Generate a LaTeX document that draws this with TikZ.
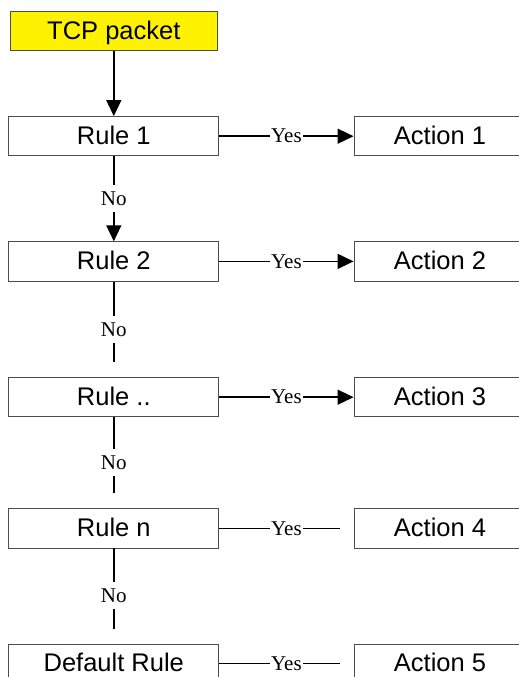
\documentclass[tikz,border=0pt]{standalone}
\usepackage{fontspec}
\setmainfont{Liberation Serif}
\newfontfamily\arialfont{Liberation Sans}
\usetikzlibrary{arrows.meta}
\begin{document}
\begin{tikzpicture}[x=1pt,y=-1pt,
 box/.style={draw=black!70, line width=0.9pt, rectangle, minimum width=210pt, minimum height=39.3pt, inner sep=0pt, font=\arialfont\fontsize{25.5}{30}\selectfont, text height=18.3pt, text depth=2.5pt},
 actbox/.style={box, minimum width=172pt},
 conn/.style={draw=black, line width=1.5pt},
 arr/.style={-{Triangle[length=16pt,width=15pt]}},
 lbl/.style={fill=white, inner xsep=1pt, inner ysep=6.5pt, font=\fontsize{21}{24}\selectfont}
]
\useasboundingbox (0,0) rectangle (519,677);

\node[box, fill=yellow, minimum width=207pt] (tcp) at (113.8,31.3) {TCP packet};
\node[box] (r1) at (113.8,136.2) {Rule 1};
\node[box] (r2) at (113.8,261.4) {Rule 2};
\node[box] (r3) at (113.8,397.2) {Rule ..};
\node[box] (r4) at (113.8,528.3) {Rule n};
\node[box] (r5) at (113.8,663.6) {Default Rule};

\node[actbox] (a1) at (440,136.2) {Action 1};
\node[actbox] (a2) at (440,261.4) {Action 2};
\node[actbox] (a3) at (440,397.2) {Action 3};
\node[actbox] (a4) at (440,528.3) {Action 4};
\node[actbox] (a5) at (440,663.6) {Action 5};

\draw[conn,arr] (tcp) -- (r1);
\draw[conn,arr] (r1) -- node[lbl]{No} (r2);
\draw[conn,shorten >=15pt] (r2) -- node[lbl]{No} (r3);
\draw[conn,shorten >=15pt] (r3) -- node[lbl]{No} (r4);
\draw[conn,shorten >=15pt] (r4) -- node[lbl]{No} (r5);

\draw[conn,arr] (r1) -- node[lbl]{Yes} (a1);
\draw[conn,arr] (r2) -- node[lbl]{Yes} (a2);
\draw[conn,arr] (r3) -- node[lbl]{Yes} (a3);
\draw[conn,shorten >=14pt] (r4) -- node[lbl]{Yes} (a4);
\draw[conn,shorten >=14pt] (r5) -- node[lbl]{Yes} (a5);
\end{tikzpicture}
\end{document}
